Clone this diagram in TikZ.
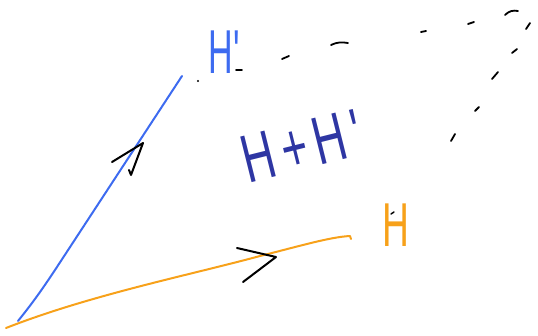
\documentclass[tikz,border=0pt]{standalone}
\usepackage{fontspec}
\setmainfont{Liberation Sans}
\definecolor{penblue}{HTML}{3D6BF0}
\definecolor{pennavy}{HTML}{2E36A3}
\definecolor{penorange}{HTML}{F7A11A}
\begin{document}
\begin{tikzpicture}[x=1pt,y=-1pt,line cap=round,line join=round,
  stroke/.style={line width=2pt},
  chev/.style={black,line width=2pt},
  dsh/.style={black,line width=1.8pt},
  lbl/.style={inner sep=0pt,font=\fontsize{62}{62}\selectfont}]
\useasboundingbox (0,0) rectangle (538,335);
% vectors
\coordinate (O1) at (18,321);
\coordinate (Hp) at (182,76);
\coordinate (O2) at (6,328);
\coordinate (Ht) at (350,236);
\draw[stroke,penblue] (O1) .. controls (35,300) and (45,285) .. (55,270) -- (Hp);
\draw[stroke,penorange] (O2) .. controls (90,295) and (190,275) .. (260,256)
  .. controls (300,246) and (330,237) .. (Ht) -- (351,239);
% arrow chevrons
\draw[chev] (112,162) -- (143,143) -- (131,175) -- (129,170);
\draw[chev] (237,248) -- (276,257) -- (243,282);
% labels
\node[lbl,text=penblue,xscale=0.55] (lHp) at (224,52) {H\textquotesingle};
\node[lbl,text=pennavy,rotate=14,xscale=0.72,yscale=1.1] (lsum) at (302,146) {H\,+\,H\,\textquotesingle};
\node[lbl,text=penorange,xscale=0.6] (lH) at (396,225) {H};
\fill (198,81) circle (1.1pt);
\draw[black,line width=1.5pt] (391,214) -- (394,212);
% dashed completion
\draw[dsh] (236,70) -- (242,70);
\draw[dsh] (282,59) -- (289,56);
\draw[dsh] (331,45) .. controls (337,42) and (342,42) .. (348,43);
\draw[dsh] (421,32) -- (426,31);
\draw[dsh] (468,24) -- (474,22);
\draw[dsh] (505,15) .. controls (509,11) and (513,10) .. (518,11);
\draw[dsh] (526,29) -- (530,23);
\draw[dsh] (512,53) -- (517,49);
\draw[dsh] (492,79) -- (498,72);
\draw[dsh] (475,111) -- (479,107);
\draw[dsh] (451,141) -- (455,134);
\end{tikzpicture}
\end{document}
